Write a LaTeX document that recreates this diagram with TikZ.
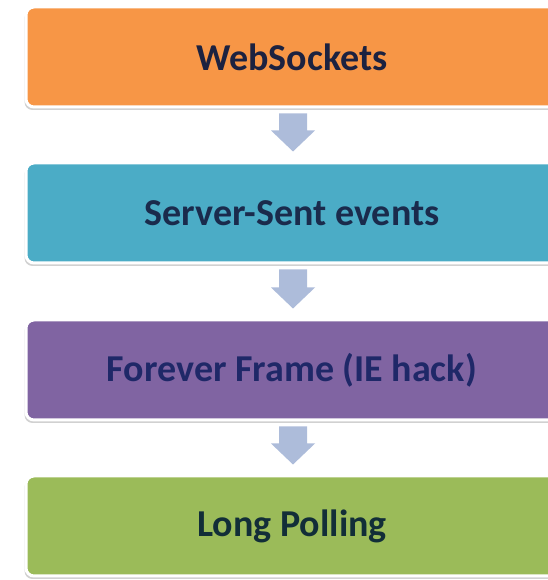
\documentclass[tikz,border=0pt]{standalone}
\usepackage{fontspec}
\setmainfont{Carlito}
\usetikzlibrary{calc,shadows}
\definecolor{cOrange}{HTML}{F79646}
\definecolor{cTeal}{HTML}{4BACC6}
\definecolor{cPurple}{HTML}{8064A2}
\definecolor{cGreen}{HTML}{9BBB59}
\definecolor{tOrange}{HTML}{1C2240}
\definecolor{tTeal}{HTML}{1A2B4C}
\definecolor{tPurple}{HTML}{1F2868}
\definecolor{tGreen}{HTML}{122E38}
\definecolor{arrowc}{HTML}{ADBCDA}
\begin{document}
\begin{tikzpicture}[x=1pt,y=1pt,
  stage/.style={rounded corners=8pt, minimum width=532pt, minimum height=100pt,
    draw=white, line width=3pt, inner sep=0pt,
    font=\fontsize{38}{40}\selectfont\bfseries,
    drop shadow={shadow xshift=-1.5pt,shadow yshift=-3pt,opacity=0.3,fill=black!60}},
  blockarrow/.style={fill=arrowc}]
\useasboundingbox (0,0) rectangle (547,580);
\node[stage, fill=cOrange, text=tOrange] (ws) at (292,523) {WebSockets};
\node[stage, fill=cTeal, text=tTeal] (sse) at (292,367) {Server-Sent events};
\node[stage, fill=cPurple, text=tPurple] (ff) at (292,210) {Forever Frame (IE hack)};
\node[stage, fill=cGreen, text=tGreen] (lp) at (292,54) {Long Polling};
\foreach \a/\b in {ws/sse, sse/ff, ff/lp}{
  \path let \p1=(\a.south), \p2=(\b.north) in
    [blockarrow] (\x1+1-14,\y1-5) -- (\x1+1+14,\y1-5) -- (\x1+1+14,\y2+31)
    -- (\x1+1+22,\y2+31) -- (\x1+1,\y2+10) -- (\x1+1-22,\y2+31)
    -- (\x1+1-14,\y2+31) -- cycle;
}
\end{tikzpicture}
\end{document}
